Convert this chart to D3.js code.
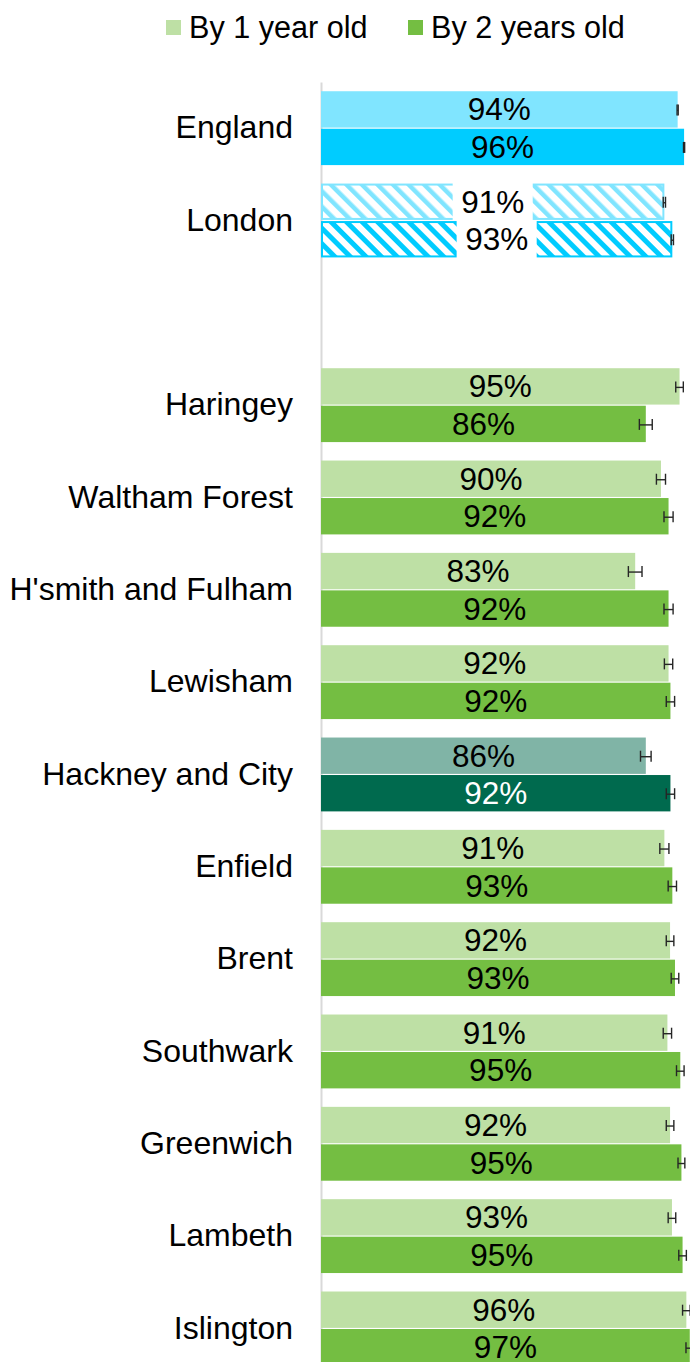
<!DOCTYPE html>
<html>
<head>
<meta charset="utf-8">
<script src="https://cdn.jsdelivr.net/npm/d3@7"></script>
<style>
html,body{margin:0;padding:0;background:#fff;}
svg{display:block;font-family:"Liberation Sans",Arial,sans-serif;}
</style>
</head>
<body>
<svg id="chart" width="690" height="1362"></svg>
<script>
const categories = ["England","London","","Haringey","Waltham Forest","H'smith and Fulham","Lewisham","Hackney and City","Enfield","Brent","Southwark","Greenwich","Lambeth","Islington"];
const seriesNames = ["By 1 year old","By 2 years old"];
const byOneYear  = [94.1, 90.6, null, 94.6, 89.7, 82.9, 91.7, 85.7, 90.6, 92.1, 91.4, 92.1, 92.6, 96.4];
const byTwoYears = [95.8, 92.7, null, 85.7, 91.7, 91.7, 92.2, 92.2, 92.7, 93.4, 94.8, 95.1, 95.4, 97.3];
const ciOne = [0.15, 0.3, null, 1.0, 1.2, 1.8, 1.1, 1.4, 1.2, 1.0, 1.1, 1.0, 1.0, 1.0];
const ciTwo = [0.15, 0.3, null, 1.7, 1.2, 1.2, 1.1, 1.1, 1.1, 1.0, 1.0, 0.9, 1.0, 1.0];

const palette = {
  green: ["#bee0a5", "#74be42"],
  england: ["#80e5ff", "#00ccff"],
  hackney: ["#80b4a6", "#006a4e"]
};

const svg = d3.select("#chart");
const catFont = 32;
const labelFont = 31.5;
const legendFont = 30.6;

const x = d3.scaleLinear().domain([0, 100]).range([321, 700]);
const y = d3.scaleBand().domain(categories).range([82, 1374.6]).paddingInner(0.2).paddingOuter(0.1);
const ys = d3.scaleBand().domain([0, 1]).range([0, y.bandwidth()]).paddingInner(0.03);

// patterns for London
const defs = svg.append("defs");
[0, 1].forEach(i => {
  const p = defs.append("pattern")
    .attr("id", "hatch" + i)
    .attr("patternUnits", "userSpaceOnUse")
    .attr("width", 11).attr("height", 11)
    .attr("patternTransform", "rotate(-45)");
  p.append("rect").attr("width", 11).attr("height", 11).attr("fill", "#fff");
  p.append("rect").attr("width", i === 0 ? 4.5 : 5).attr("height", 11).attr("fill", palette.england[i]);
});

const rows = categories.map((c, i) => ({
  cat: c,
  vals: [byOneYear[i], byTwoYears[i]],
  cis: [ciOne[i], ciTwo[i]]
})).filter(d => d.vals[0] != null);

function styleFor(cat, s) {
  if (cat === "England") return {fill: palette.england[s], stroke: "none", text: "#000"};
  if (cat === "London") return {fill: "url(#hatch" + s + ")", stroke: palette.england[s], text: "#000", hatch: true};
  if (cat === "Hackney and City") return {fill: palette.hackney[s], stroke: "none", text: s === 1 ? "#fff" : "#000"};
  return {fill: palette.green[s], stroke: "none", text: "#000"};
}

// axis
const axis = d3.axisLeft(y).tickSize(0).tickPadding(28);
const ag = svg.append("g").attr("transform", "translate(321,0)").call(axis);
ag.select(".domain").attr("stroke", "#d9d9d9").attr("stroke-width", 2);
ag.selectAll("text").attr("font-size", catFont).attr("fill", "#000")
  .attr("font-family", '"Liberation Sans",Arial,sans-serif');

const items = [];
rows.forEach(r => {
  [0, 1].forEach(s => {
    items.push({cat: r.cat, s, v: r.vals[s], ci: r.cis[s]});
  });
});

const g = svg.append("g");
const itemG = g.selectAll("g.item").data(items).join("g")
  .attr("class", "item")
  .attr("transform", d => `translate(0,${y(d.cat) + ys(d.s)})`);

itemG.append("rect")
  .attr("x", d => styleFor(d.cat, d.s).hatch ? x(0) + 1 : x(0))
  .attr("y", d => styleFor(d.cat, d.s).hatch ? 1 : 0)
  .attr("width", d => x(d.v) - x(0) - (styleFor(d.cat, d.s).hatch ? 2 : 0))
  .attr("height", d => ys.bandwidth() - (styleFor(d.cat, d.s).hatch ? 2 : 0))
  .attr("fill", d => styleFor(d.cat, d.s).fill)
  .attr("stroke", d => styleFor(d.cat, d.s).stroke)
  .attr("stroke-width", 2);

// labels
itemG.each(function(d) {
  const st = styleFor(d.cat, d.s);
  const gg = d3.select(this);
  const cx = (x(0) + x(d.v)) / 2;
  const t = gg.append("text")
    .attr("x", cx)
    .attr("y", ys.bandwidth() / 2)
    .attr("dy", "0.35em")
    .attr("text-anchor", "middle")
    .attr("font-size", labelFont)
    .attr("fill", st.text)
    .text(Math.round(d.v) + "%");
  if (st.hatch) {
    const w = t.node().getComputedTextLength() + 17;
    gg.insert("rect", "text")
      .attr("x", cx - w / 2)
      .attr("y", -1)
      .attr("width", w)
      .attr("height", ys.bandwidth() + 2)
      .attr("fill", "#fff");
  }
});

// error bars
const eb = itemG.append("g").attr("stroke", "#262626").attr("stroke-width", 1.4).attr("fill", "none");
const cy = ys.bandwidth() / 2;
eb.append("line")
  .attr("x1", d => x(d.v - d.ci)).attr("x2", d => x(d.v + d.ci))
  .attr("y1", cy + 1).attr("y2", cy + 1);
eb.append("line")
  .attr("x1", d => x(d.v - d.ci)).attr("x2", d => x(d.v - d.ci))
  .attr("y1", cy - 5).attr("y2", cy + 6);
eb.append("line")
  .attr("x1", d => x(d.v + d.ci)).attr("x2", d => x(d.v + d.ci))
  .attr("y1", cy - 5).attr("y2", cy + 6);

// legend
const legend = svg.append("g");
const legX = [166, 408];
seriesNames.forEach((n, i) => {
  legend.append("rect").attr("x", legX[i]).attr("y", 20).attr("width", 15).attr("height", 15)
    .attr("fill", palette.green[i]);
  legend.append("text").attr("x", legX[i] + 23).attr("y", 38)
    .attr("font-size", legendFont).attr("fill", "#000").text(n);
});
</script>
</body>
</html>
